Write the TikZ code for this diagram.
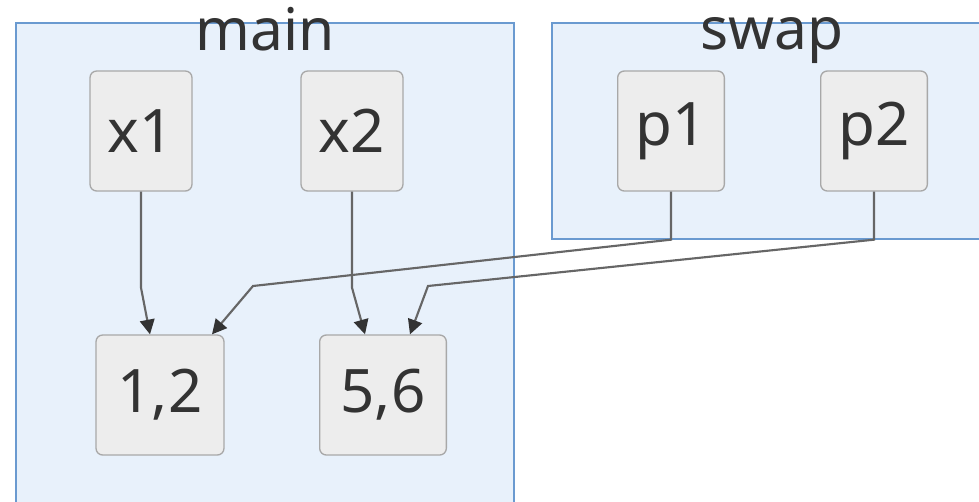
\documentclass[tikz,border=0pt]{standalone}
\usepackage{fontspec}
\setmainfont{Noto Sans}
\usetikzlibrary{arrows.meta,calc}
\definecolor{clusterfill}{HTML}{E8F1FB}
\definecolor{clusterline}{HTML}{6A9AD0}
\definecolor{boxfill}{HTML}{EDEDED}
\definecolor{boxline}{HTML}{A8A8A8}
\definecolor{edgeline}{HTML}{666666}
\definecolor{ink}{HTML}{333333}

\begin{document}
\begin{tikzpicture}[x=0.75pt,y=-0.75pt,
  cluster/.style={fill=clusterfill,draw=clusterline,line width=1.2pt},
  var/.style={draw=boxline,fill=boxfill,rounded corners=5pt,line width=1pt,
    minimum height=90pt,text=ink,font=\fontsize{45}{45}\selectfont},
  title/.style={text=ink,anchor=base,inner sep=0pt,font=\fontsize{44}{44}\selectfont},
  edge/.style={draw=edgeline,line width=1.6pt,
    -{Triangle[length=11pt,width=11pt,color=ink]}}]
\useasboundingbox (0,0) rectangle (979,501);
\clip (0,0) rectangle (979,501);
% subgraphs
\draw [cluster] (16,23) rectangle (514,520);
\draw [cluster] (552,23) rectangle (995,239);
\node [title] (tmain) at (265,50) {main};
\node [title] (tswap) at (772,49) {swap};
% variables
\node [var,minimum width=76.5pt] (x1) at (141,131) {x1};
\node [var,minimum width=76.5pt] (x2) at (352,131) {x2};
\node [var,minimum width=80pt] (p1) at (671,131) {p1};
\node [var,minimum width=80pt] (p2) at (874,131) {p2};
% values
\node [var,minimum width=96pt] (v12) at (160,395) {1,2};
\node [var,minimum width=95pt] (v56) at (383,395) {5,6};
% references
\draw [edge] (x1.south) -- ++(0,96) -- ($(v12.north)+(-10,0)$);
\draw [edge] (x2.south) -- ++(0,96) -- ($(v56.north)+(-18,0)$);
\draw [edge] (p1.south) -- ++(0,48) -- (253,286) -- ($(v12.north)+(52,0)$);
\draw [edge] (p2.south) -- ++(0,48) -- (428,286) -- ($(v56.north)+(27,0)$);
\end{tikzpicture}
\end{document}
